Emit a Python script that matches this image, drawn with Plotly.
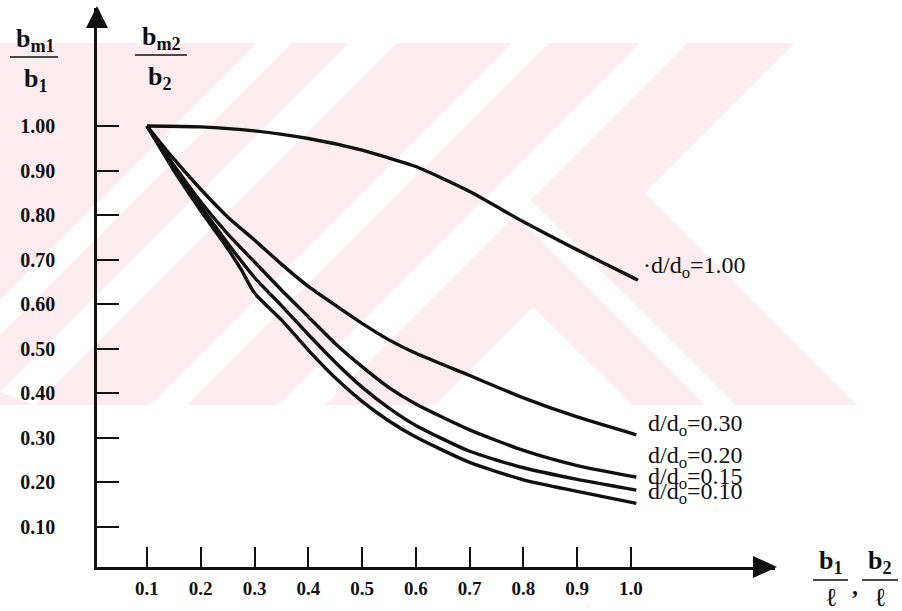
import plotly.graph_objects as go

# ---------------- data ----------------
x_ticks = [0.1, 0.2, 0.3, 0.4, 0.5, 0.6, 0.7, 0.8, 0.9, 1.0]
x_tick_labels = ["0.1", "0.2", "0.3", "0.4", "0.5", "0.6", "0.7", "0.8", "0.9", "1.0"]
y_ticks = [0.10, 0.20, 0.30, 0.40, 0.50, 0.60, 0.70, 0.80, 0.90, 1.00]
y_tick_labels = ["0.10", "0.20", "0.30", "0.40", "0.50", "0.60", "0.70", "0.80", "0.90", "1.00"]

x_d100 = [0.10, 0.20, 0.30, 0.40, 0.50, 0.55, 0.60, 0.70, 0.80, 0.90, 1.00, 1.013]
y_d100 = [1.000, 0.998, 0.989, 0.972, 0.946, 0.928, 0.909, 0.853, 0.785, 0.722, 0.662, 0.654]

x_d030 = [0.10, 0.15, 0.20, 0.25, 0.30, 0.35, 0.40, 0.45, 0.50, 0.55, 0.60, 0.70, 0.80, 0.90, 1.01]
y_d030 = [1.000, 0.926, 0.858, 0.796, 0.744, 0.690, 0.640, 0.598, 0.557, 0.520, 0.490, 0.440, 0.390, 0.347, 0.307]

x_d020 = [0.10, 0.15, 0.20, 0.25, 0.30, 0.35, 0.40, 0.45, 0.50, 0.55, 0.60, 0.70, 0.80, 0.90, 1.01]
y_d020 = [1.000, 0.912, 0.830, 0.758, 0.695, 0.632, 0.572, 0.512, 0.460, 0.413, 0.376, 0.318, 0.272, 0.238, 0.212]

x_d015 = [0.10, 0.15, 0.20, 0.25, 0.30, 0.35, 0.40, 0.45, 0.50, 0.55, 0.60, 0.70, 0.80, 0.90, 1.01]
y_d015 = [1.000, 0.905, 0.820, 0.737, 0.660, 0.597, 0.532, 0.470, 0.414, 0.367, 0.328, 0.270, 0.233, 0.207, 0.183]

x_d010 = [0.10, 0.15, 0.20, 0.25, 0.275, 0.30, 0.35, 0.40, 0.45, 0.50, 0.55, 0.60, 0.70, 0.80, 0.90, 1.01]
y_d010 = [1.000, 0.900, 0.810, 0.725, 0.678, 0.625, 0.565, 0.497, 0.435, 0.382, 0.338, 0.302, 0.245, 0.206, 0.180, 0.153]

series = [
    ("d/d<sub>o</sub>=1.00", x_d100, y_d100),
    ("d/d<sub>o</sub>=0.30", x_d030, y_d030),
    ("d/d<sub>o</sub>=0.20", x_d020, y_d020),
    ("d/d<sub>o</sub>=0.15", x_d015, y_d015),
    ("d/d<sub>o</sub>=0.10", x_d010, y_d010),
]
# curve labels and their anchor positions (data units)
label_text = ["\u00b7d/d<sub>o</sub>=1.00", "d/d<sub>o</sub>=0.30", "d/d<sub>o</sub>=0.20",
              "d/d<sub>o</sub>=0.15", "d/d<sub>o</sub>=0.10"]
label_x = [1.018, 1.027, 1.027, 1.027, 1.027]
label_y = [0.684, 0.330, 0.257, 0.210, 0.176]

# ---------------- layout geometry (pixels) ----------------
W, H = 902, 611
L, R, T, B = 97, 775, 8, 567
XR = [0.0071, 1.2678]
YR = [0.0103, 1.2648]

def px(xp):
    return (xp - L) / (R - L)

def py(yp):
    return (B - yp) / (B - T)

def poly(pts):
    return "M " + " L ".join(f"{px(a):.5f},{py(b):.5f}" for a, b in pts) + " Z"

SERIF = "Liberation Serif, Times New Roman, serif"
INK = "#111111"

fig = go.Figure()
for name, xs, ys in series:
    fig.add_trace(go.Scatter(x=xs, y=ys, mode="lines", name=name,
                             line=dict(color=INK, width=3.4, shape="spline", smoothing=0.6),
                             hoverinfo="skip", showlegend=False))

shapes = []
# --- faint pink watermark (approximation of the scanned background) ---
PINK = "#fdecef"
Y0, Y1 = 43, 405

def wm(pts, color):
    shapes.append(dict(type="path", xref="paper", yref="paper", layer="below",
                       path=poly(pts), fillcolor=color, line=dict(width=0)))

wm([(0, Y0), (795, Y0), (645, 193), (857, Y1), (0, Y1)], PINK)

def slash_band(c0, c1):
    pts = [(c0 - Y0, Y0), (c1 - Y0, Y0), (c1 - Y1, Y1), (c0 - Y1, Y1)]
    clipped = []
    for (x, y) in pts:
        clipped.append((0, x + y) if x < 0 else (x, y))
    wm(clipped, "white")

for c0, c1 in [(300, 335), (392, 440), (555, 592), (683, 730)]:
    slash_band(c0, c1)
wm([(300 + 196, 196), (330 + 196, 196), (330 + Y1, Y1), (300 + Y1, Y1)], "white")
wm([(533, 307), (632, Y1), (435, Y1)], "white")

# --- arrow heads on the axes ---
shapes.append(dict(type="path", xref="paper", yref="paper",
                   path=poly([(97, 6), (86, 28), (108, 28)]), fillcolor=INK, line=dict(width=0)))
shapes.append(dict(type="path", xref="paper", yref="paper",
                   path=poly([(777, 567), (753, 556), (753, 578)]), fillcolor=INK, line=dict(width=0)))

# --- fraction bars of the axis titles ---
for x0, x1, yy in [(10, 58, 57), (135, 187, 55), (813, 848, 580), (862, 898, 580)]:
    shapes.append(dict(type="line", xref="paper", yref="paper",
                       x0=px(x0), x1=px(x1), y0=py(yy), y1=py(yy), line=dict(color=INK, width=1.6)))

annotations = []
for t, lx, ly in zip(label_text, label_x, label_y):
    annotations.append(dict(x=lx, y=ly, xref="x", yref="y", text=t, showarrow=False,
                            xanchor="left", yanchor="middle",
                            font=dict(family=SERIF, size=24, color=INK)))

def pa(text, xp, yp, size=26, bold=True, italic=False):
    if bold:
        text = f"<b>{text}</b>"
    if italic:
        text = f"<i>{text}</i>"
    annotations.append(dict(x=px(xp), y=py(yp), xref="paper", yref="paper", text=text,
                            showarrow=False, xanchor="center", yanchor="middle",
                            font=dict(family=SERIF, size=size, color=INK)))

pa("b<sub>m1</sub>", 35, 40)
pa("b<sub>1</sub>", 36, 80)
pa("b<sub>m2</sub>", 161, 38)
pa("b<sub>2</sub>", 160, 78)
pa("b<sub>1</sub>", 831, 562)
pa("b<sub>2</sub>", 880, 562)
pa("\u2113", 831, 597, size=26, bold=False)
pa("\u2113", 880, 597, size=26, bold=False)
pa(",", 855, 586, size=24, bold=True)

fig.update_layout(
    width=W, height=H,
    margin=dict(l=L, r=W - R, t=T, b=H - B, pad=0),
    paper_bgcolor="white", plot_bgcolor="rgba(0,0,0,0)",
    shapes=shapes, annotations=annotations,
    xaxis=dict(range=XR, tickvals=x_ticks, ticktext=[f"<b>{t}</b>" for t in x_tick_labels],
               ticks="inside", ticklen=20, tickwidth=2, tickcolor=INK,
               showline=True, linecolor=INK, linewidth=2.5, showgrid=False, zeroline=False,
               tickfont=dict(family=SERIF, size=19, color=INK), ticklabelstandoff=2),
    yaxis=dict(range=YR, tickvals=y_ticks, ticktext=[f"<b>{t}</b>" for t in y_tick_labels],
               ticks="inside", ticklen=22, tickwidth=2, tickcolor=INK,
               showline=True, linecolor=INK, linewidth=2.5, showgrid=False, zeroline=False,
               tickfont=dict(family=SERIF, size=20, color=INK), ticklabelstandoff=35),
)

fig.write_html("out.html", config={"displayModeBar": False},
               post_script="document.body.style.margin='0px';")
